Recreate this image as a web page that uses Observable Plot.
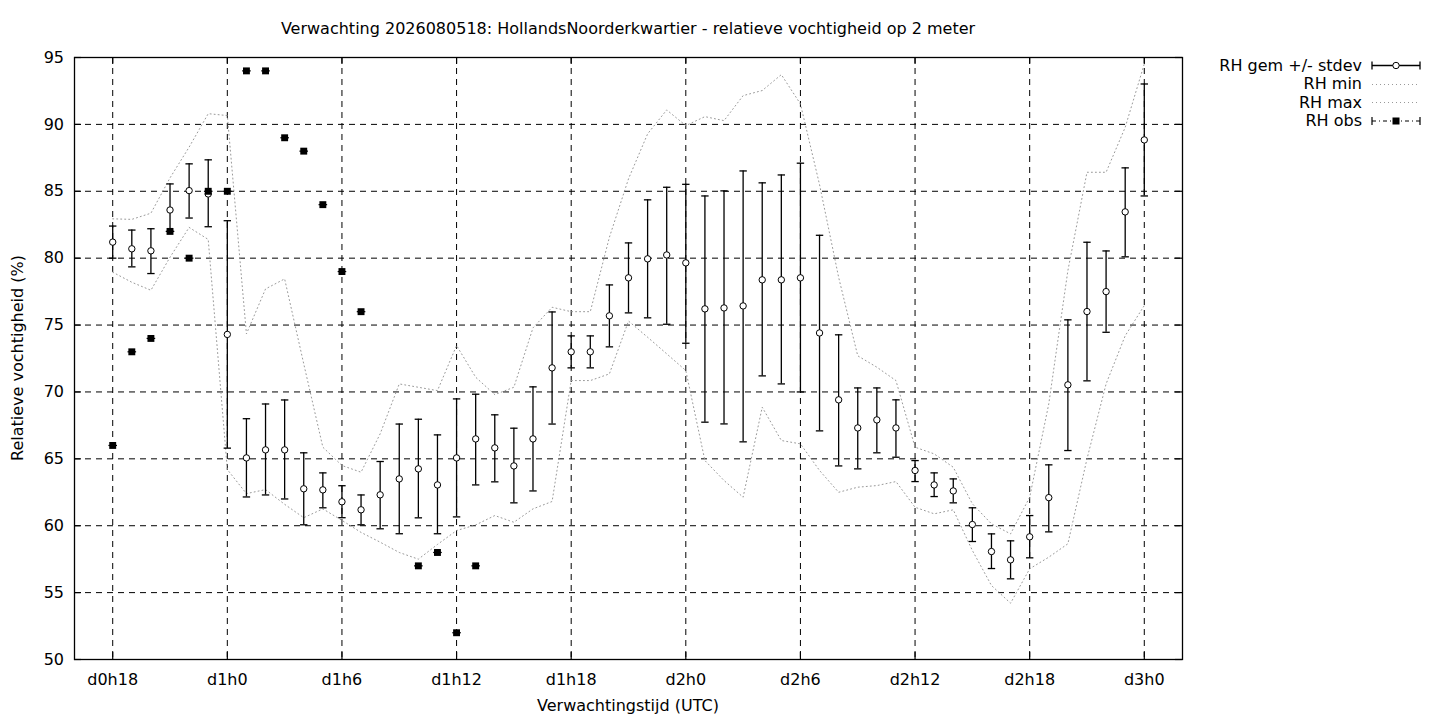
<!DOCTYPE html>
<html>
<head>
<meta charset="utf-8">
<script src="https://cdn.jsdelivr.net/npm/d3@7"></script>
<script src="https://cdn.jsdelivr.net/npm/@observablehq/plot@0.6"></script>
<style>
  html, body { margin: 0; padding: 0; background: #fff; }
  #wrap { position: relative; width: 1440px; height: 720px; font-family: "DejaVu Sans", sans-serif; font-size: 16px; color: #000; }
  .ov { position: absolute; white-space: nowrap; line-height: 20px; }
  #title { left: 0; width: 1256px; top: 19px; text-align: center; }
  #xlabel { left: 0; width: 1256px; top: 696px; text-align: center; }
  #ylabel { left: 18px; top: 358px; transform: translate(-50%, -50%) rotate(-90deg); }
  .leg { right: 78px; text-align: right; }
  #legsvg { position: absolute; left: 1360px; top: 50px; }
</style>
</head>
<body>
<div id="wrap">
  <div id="chart"></div>
  <div class="ov" id="title">Verwachting 2026080518: HollandsNoorderkwartier - relatieve vochtigheid op 2 meter</div>
  <div class="ov" id="xlabel">Verwachtingstijd (UTC)</div>
  <div class="ov" id="ylabel">Relatieve vochtigheid (%)</div>
  <div class="ov leg" style="top:55.5px">RH gem +/- stdev</div>
  <div class="ov leg" style="top:74.3px">RH min</div>
  <div class="ov leg" style="top:92.7px">RH max</div>
  <div class="ov leg" style="top:111px">RH obs</div>
  <svg id="legsvg" width="80" height="90" viewBox="0 0 80 90">
    <g stroke="#000" stroke-width="1.3" fill="none">
      <line x1="12" y1="15.5" x2="60" y2="15.5"/>
      <line x1="12" y1="11.5" x2="12" y2="19.5"/>
      <line x1="60" y1="11.5" x2="60" y2="19.5"/>
      <circle cx="36" cy="15.5" r="3.2" fill="#fff" stroke-width="1"/>
    </g>
    <line x1="12" y1="34.5" x2="60" y2="34.5" stroke="#999" stroke-width="1" stroke-dasharray="1,3"/>
    <line x1="12" y1="52.5" x2="60" y2="52.5" stroke="#999" stroke-width="1" stroke-dasharray="1,3"/>
    <g stroke="#000" stroke-width="1.2" fill="none">
      <line x1="12" y1="71" x2="60" y2="71" stroke-dasharray="4,3,1,3"/>
      <line x1="12" y1="67" x2="12" y2="75"/>
      <line x1="60" y1="67" x2="60" y2="75"/>
      <rect x="32.5" y="67.5" width="7" height="7" fill="#000" stroke="none"/>
    </g>
  </svg>
</div>
<script>
// ---- data (hours since forecast base) ----
const hours = [18,19,20,21,22,23,24,25,26,27,28,29,30,31,32,33,34,35,36,37,38,39,40,41,42,43,44,45,46,47,48,49,50,51,52,53,54,55,56,57,58,59,60,61,62,63,64,65,66,67,68,69,70,71,72];
const rhMean = [81.2,80.7,80.55,83.6,85.05,84.8,74.3,65.07,65.67,65.67,62.76,62.68,61.79,61.19,62.31,63.5,64.25,63.05,65.07,66.49,65.82,64.47,66.49,71.8,73.0,73.0,75.69,78.53,79.95,80.24,79.65,76.21,76.28,76.43,78.38,78.38,78.53,74.41,69.41,67.31,67.91,67.31,64.13,63.05,62.6,60.09,58.07,57.45,59.17,62.1,70.53,76.01,77.5,83.46,88.84];
const rhLow  = [80.0,79.35,78.85,82.0,83.0,82.35,65.8,62.15,62.3,62.0,60.07,61.34,60.6,60.07,59.77,59.4,60.59,59.4,60.66,63.05,63.28,61.71,62.6,67.6,71.8,71.8,73.37,75.91,75.54,75.06,73.64,67.74,67.61,66.27,71.2,70.6,70.0,67.09,64.47,64.25,65.45,65.12,63.3,62.18,61.71,58.82,56.8,56.03,57.6,59.54,65.62,70.83,74.46,80.1,84.65];
const rhHigh = [82.4,82.1,82.2,85.55,87.05,87.35,82.8,68.0,69.1,69.4,65.45,63.95,62.99,62.3,64.8,67.6,67.96,66.79,69.48,69.83,68.29,67.29,70.38,75.98,74.19,74.19,78.0,81.14,84.36,85.3,85.52,84.65,85.03,86.52,85.63,86.22,87.1,81.71,74.27,70.3,70.3,69.41,64.87,63.95,63.5,61.34,59.39,58.87,60.76,64.55,75.39,81.19,80.54,86.75,93.02];
const rhMin  = [78.95,78.2,77.6,80.07,82.3,81.4,64.2,62.4,62.7,61.6,60.6,61.26,60.4,59.5,58.77,58.0,57.5,58.6,59.64,60.06,60.76,60.26,61.26,61.81,70.85,70.85,71.35,75.3,74.09,72.85,71.6,64.87,63.38,62.13,68.86,66.37,66.12,64.13,62.5,62.88,63.0,63.3,61.38,60.89,61.19,58.15,55.53,54.21,56.78,57.65,58.65,65.0,70.6,74.2,76.46];
const rhMax  = [82.94,82.9,83.36,86.0,88.3,90.8,90.66,74.34,77.7,78.45,72.1,65.87,64.5,64.0,66.87,70.6,70.35,70.1,73.47,71.1,69.8,70.35,74.79,76.33,76.0,76.0,81.56,85.93,89.29,91.08,89.91,90.58,90.28,92.15,92.53,93.72,91.53,85.5,78.57,72.7,71.85,70.85,65.87,65.37,64.37,61.64,60.14,59.39,62.13,69.11,79.07,86.42,86.42,89.78,94.52];
const obsHours = [18,19,20,21,22,23,24,25,26,27,28,29,30,31,34,35,36,37];
const obsValues = [66,73,74,82,80,85,85,94,94,89,88,84,79,76,57,58,52,57];
const xTicks = [18,24,30,36,42,48,54,60,66,72];
const xTickLabels = ["d0h18","d1h0","d1h6","d1h12","d1h18","d2h0","d2h6","d2h12","d2h18","d3h0"];
const yTicks = [50,55,60,65,70,75,80,85,90,95];

const forecast = hours.map((h, i) => ({h, mean: rhMean[i], lo: rhLow[i], hi: rhHigh[i], min: rhMin[i], max: rhMax[i]}));
const obs = obsHours.map((h, i) => ({h, v: obsValues[i]}));
const labelOf = new Map(xTicks.map((t, i) => [t, xTickLabels[i]]));

const cap = { draw(ctx, size) { const r = Math.sqrt(size / Math.PI); ctx.moveTo(-r, 0); ctx.lineTo(r, 0); } };

const W = 1440, H = 720, mL = 74, mR = 258, mT = 57, mB = 61;
const pw = W - mL - mR, ph = H - mT - mB;
const tick = 7;

const chart = Plot.plot({
  width: W, height: H,
  marginLeft: mL, marginRight: mR, marginTop: mT, marginBottom: mB,
  x: {domain: [16, 74]},
  y: {domain: [50, 95]},
  style: {fontFamily: "DejaVu Sans, sans-serif", fontSize: "16px", color: "#000", background: "#fff", overflow: "visible"},
  marks: [
    Plot.gridX(xTicks, {stroke: "#000", strokeOpacity: 1, strokeWidth: 1, strokeDasharray: "6,5"}),
    Plot.gridY(yTicks, {stroke: "#000", strokeOpacity: 1, strokeWidth: 1, strokeDasharray: "6,5"}),
    Plot.ruleX(xTicks, {insetTop: ph - tick, stroke: "#000", strokeWidth: 1.2}),
    Plot.ruleX(xTicks, {insetBottom: ph - tick, stroke: "#000", strokeWidth: 1.2}),
    Plot.ruleY(yTicks, {insetRight: pw - tick, stroke: "#000", strokeWidth: 1.2}),
    Plot.ruleY(yTicks, {insetLeft: pw - tick, stroke: "#000", strokeWidth: 1.2}),
    Plot.axisX(xTicks, {tickSize: 0, tickPadding: 14, tickFormat: d => labelOf.get(d), label: null, fontSize: 16}),
    Plot.axisY(yTicks, {tickSize: 0, tickPadding: 10.5, label: null, fontSize: 16}),
    Plot.line(forecast, {x: "h", y: "min", stroke: "#999", strokeWidth: 1, strokeDasharray: "1,3"}),
    Plot.line(forecast, {x: "h", y: "max", stroke: "#999", strokeWidth: 1, strokeDasharray: "1,3"}),
    Plot.ruleX(forecast, {x: "h", y1: "lo", y2: "hi", stroke: "#000", strokeWidth: 1.3}),
    Plot.dot(forecast, {x: "h", y: "lo", symbol: cap, r: 3.7, fill: "none", stroke: "#000", strokeWidth: 1.3}),
    Plot.dot(forecast, {x: "h", y: "hi", symbol: cap, r: 3.7, fill: "none", stroke: "#000", strokeWidth: 1.3}),
    Plot.dot(forecast, {x: "h", y: "mean", r: 3.2, fill: "#fff", stroke: "#000", strokeWidth: 1}),
    Plot.dot(obs, {x: "h", y: "v", symbol: cap, r: 4.3, fill: "none", stroke: "#000", strokeWidth: 1.2}),
    Plot.dot(obs, {x: "h", y: "v", symbol: "square", r: 3.9, fill: "#000", stroke: "none"}),
    Plot.frame({stroke: "#000", strokeWidth: 1.3})
  ]
});
document.getElementById("chart").appendChild(chart);
</script>
</body>
</html>
